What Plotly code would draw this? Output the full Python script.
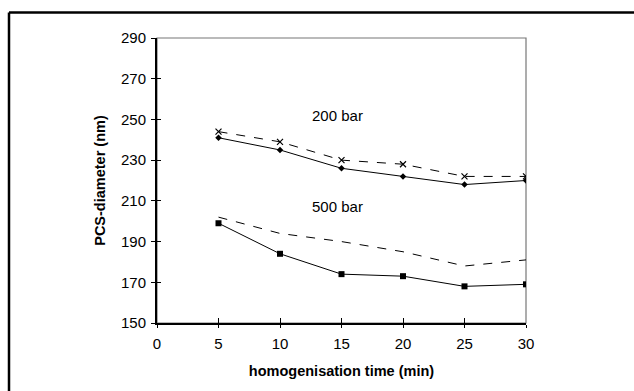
import plotly.graph_objects as go

time_min = [5, 10, 15, 20, 25, 30]
bar200_dashed = [244, 239, 230, 228, 222, 222]
bar200_solid = [241, 235, 226, 222, 218, 220]
bar500_dashed = [202, 194, 190, 185, 178, 181]
bar500_solid = [199, 184, 174, 173, 168, 169]
x_ticks = [0, 5, 10, 15, 20, 25, 30]
y_ticks = [150, 170, 190, 210, 230, 250, 270, 290]
labels = ["200 bar", "500 bar"]
label_pos = [(14.7, 252), (14.7, 207)]

FONT = "Liberation Sans, Arial, sans-serif"
fig = go.Figure()
fig.add_trace(go.Scatter(x=time_min, y=bar200_dashed, mode="lines+markers",
                         line=dict(color="black", width=1, dash="dash"),
                         marker=dict(symbol="x-thin", size=6, line=dict(color="black", width=1.2))))
fig.add_trace(go.Scatter(x=time_min, y=bar200_solid, mode="lines+markers",
                         line=dict(color="black", width=1),
                         marker=dict(symbol="diamond", size=5, color="black")))
fig.add_trace(go.Scatter(x=time_min, y=bar500_dashed, mode="lines",
                         line=dict(color="black", width=1, dash="dash")))
fig.add_trace(go.Scatter(x=time_min, y=bar500_solid, mode="lines+markers",
                         line=dict(color="black", width=1),
                         marker=dict(symbol="square", size=6, color="black")))
# invisible trace to activate overlay axes
fig.add_trace(go.Scatter(x=[0], y=[150], xaxis="x2", yaxis="y2", mode="markers",
                         marker=dict(opacity=0), hoverinfo="skip"))

for (lx, ly), txt in zip(label_pos, labels):
    fig.add_annotation(x=lx, y=ly, text=txt, showarrow=False,
                       font=dict(family=FONT, size=15, color="black"))

# gray plot frame
fig.add_shape(type="rect", xref="x domain", yref="y domain", x0=0, x1=1, y0=0, y1=1,
              line=dict(color="#777777", width=1.2), layer="below")
# outer border: only top and left sides visible (clipped at right and bottom)
bx = -(157 - 9) / 369
by = 1 + (38 - 12.5) / 284.7
fig.add_shape(type="line", xref="paper", yref="paper", x0=bx, x1=1.3, y0=by, y1=by,
              line=dict(color="black", width=2.5))
fig.add_shape(type="line", xref="paper", yref="paper", x0=bx, x1=bx, y0=by, y1=-0.3,
              line=dict(color="black", width=2.5))

axis_font = dict(family=FONT, size=15, color="black")
title_font = dict(family=FONT, size=14.5, color="black")
fig.update_layout(
    width=634, height=391,
    margin=dict(l=157, r=108, t=38, b=68.3),
    paper_bgcolor="white", plot_bgcolor="white",
    showlegend=False, hovermode=False,
    font=dict(family=FONT, color="black"),
    xaxis=dict(range=[0, 30], tickvals=x_ticks, showgrid=False, zeroline=False,
               showline=True, linecolor="black", linewidth=1.5,
               ticks="outside", ticklen=3, tickwidth=1, tickcolor="black",
               tickfont=axis_font, automargin=False, ticklabelstandoff=3,
               title=dict(text="<b>homogenisation time (min)</b>", standoff=15,
                          font=title_font)),
    yaxis=dict(range=[150, 290], tickvals=y_ticks, showgrid=False, zeroline=False,
               showline=True, linecolor="black", linewidth=2,
               ticks="outside", ticklen=4, tickwidth=1, tickcolor="black",
               tickfont=axis_font, automargin=False, ticklabelstandoff=2,
               title=dict(text="<b>PCS-diameter (nm)</b>", standoff=12,
                          font=title_font)),
    xaxis2=dict(overlaying="x", matches="x", range=[0, 30], tickvals=x_ticks,
                ticks="inside", ticklen=5, tickwidth=1, tickcolor="black",
                showticklabels=False, showgrid=False, zeroline=False, showline=False),
    yaxis2=dict(overlaying="y", matches="y", range=[150, 290], tickvals=y_ticks,
                ticks="inside", ticklen=4, tickwidth=1, tickcolor="black",
                showticklabels=False, showgrid=False, zeroline=False, showline=False),
)
fig.write_html("out.html", config={"displayModeBar": False, "staticPlot": True},
               post_script="document.documentElement.style.overflow='hidden';"
                           "document.body.style.margin='0';document.body.style.overflow='hidden';")
